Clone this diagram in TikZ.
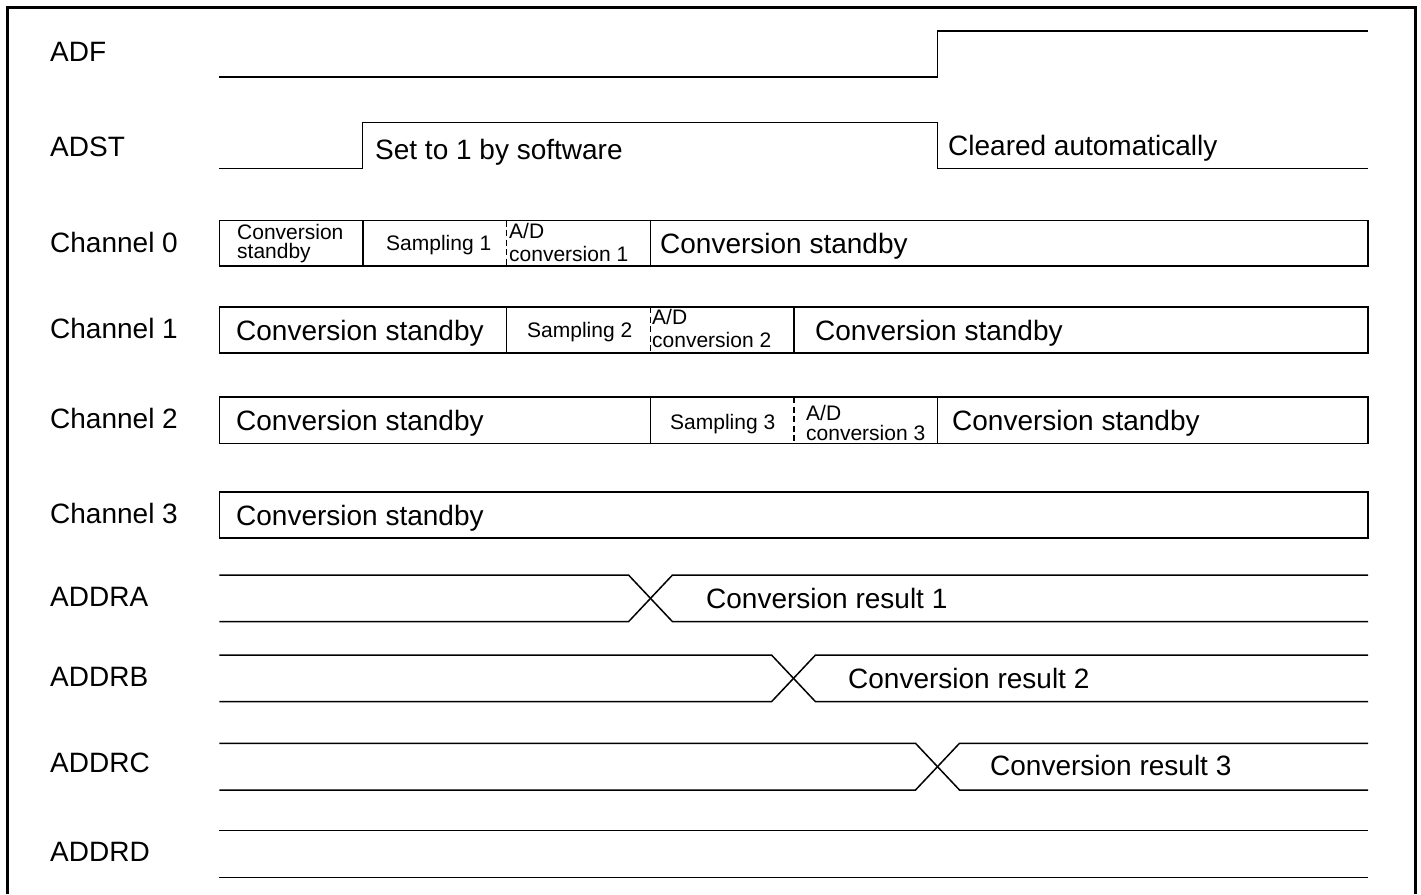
\documentclass[tikz,border=0pt]{standalone}
\usepackage{fontspec}
\setmainfont{Liberation Sans}
\usetikzlibrary{positioning}

\newcommand{\bigtext}{\fontsize{28}{32}\selectfont}
\newcommand{\smalltext}{\fontsize{21}{24}\selectfont}

\begin{document}
\begin{tikzpicture}[
  x=1pt, y=-1pt,
  lbl/.style={anchor=base west, inner sep=0pt, font=\bigtext},
  big/.style={anchor=base west, inner sep=0pt, font=\bigtext},
  small/.style={anchor=base west, inner sep=0pt, font=\smalltext},
  twoline/.style={anchor=north west, inner sep=0pt, align=left, font=\fontsize{21}{#1}\selectfont},
  sig/.style={line width=1.5pt},
  chbox/.style={draw, line width=1.5pt},
  halfdash/.style={line width=1.5pt, dash pattern=on 6pt off 3.5pt},
  frame/.style={line width=3pt}
]
\useasboundingbox (0,0) rectangle (1421,894);
\draw[frame] (7,894) -- (7,7) -- (1415,7) -- (1415,894);

% signal names
\node[lbl] (adf)  at (50,61)  {ADF};
\node[lbl] (adst) at (50,156) {ADST};
\node[lbl] (ch0)  at (50,252) {Channel 0};
\node[lbl] (ch1)  at (50,338) {Channel 1};
\node[lbl] (ch2)  at (50,428) {Channel 2};
\node[lbl] (ch3)  at (50,523) {Channel 3};
\node[lbl] (ddra) at (50,606) {ADDRA};
\node[lbl] (ddrb) at (50,686) {ADDRB};
\node[lbl] (ddrc) at (50,772) {ADDRC};
\node[lbl] (ddrd) at (50,861) {ADDRD};

% ADF / ADST
\draw[sig] (219.3,77) -- (937.5,77) -- (937.5,31) -- (1368,31);
\draw[sig] (219.3,168.5) -- (362.7,168.5) -- (362.7,122.7) -- (937.5,122.7)
  -- (937.5,168.5) -- (1368,168.5);
\node[big] (setsw) at (375,159) {Set to 1 by software};
\node[big] (clrauto) at (948,155) {Cleared automatically};

% channel 0
\draw[chbox] (219.3,220.7) rectangle (1368,266);
\draw[sig] (363,220.7) -- (363,266);
\draw[halfdash] (506.7,220.7) -- (506.7,266);
\draw[sig] (650.5,220.7) -- (650.5,266);
\node[twoline=19] (c0stby) at (237,224.5) {Conversion\\standby};
\node[small] (c0smp) at (386,250) {Sampling 1};
\node[twoline=23.5] (c0ad) at (509,222.7) {A/D\\conversion 1};
\node[big] (c0rest) at (660,253.5) {Conversion standby};

% channel 1
\draw[chbox] (219.3,307) rectangle (1368,353);
\draw[sig] (506.7,307) -- (506.7,353);
\draw[halfdash] (650.5,307) -- (650.5,353);
\draw[sig] (794,307) -- (794,353);
\node[big] (c1stby) at (236,340.5) {Conversion standby};
\node[small] (c1smp) at (527,337) {Sampling 2};
\node[twoline=23] (c1ad) at (652,309.5) {A/D\\conversion 2};
\node[big] (c1rest) at (815,340.5) {Conversion standby};

% channel 2
\draw[chbox] (219.3,397) rectangle (1368,443.5);
\draw[sig] (650.5,397) -- (650.5,443.5);
\draw[halfdash] (794,397) -- (794,443.5);
\draw[sig] (937.5,397) -- (937.5,443.5);
\node[big] (c2stby) at (236,430.7) {Conversion standby};
\node[small] (c2smp) at (670,429) {Sampling 3};
\node[twoline=20.5] (c2ad) at (806,405) {A/D\\conversion 3};
\node[big] (c2rest) at (952,430.7) {Conversion standby};

% channel 3
\draw[chbox] (219.3,492) rectangle (1368,538);
\node[big] (c3stby) at (236,525.7) {Conversion standby};

% data registers
\foreach \top/\tx in {575/650.5, 655/793.5, 743.3/937.5}{
  \draw[sig] (219.3,\top) -- (\tx-22,\top) -- (\tx+22,\top+46.7) -- (1368,\top+46.7);
  \draw[sig] (219.3,\top+46.7) -- (\tx-22,\top+46.7) -- (\tx+22,\top) -- (1368,\top);
}
\node[big] (resa) at (706,608) {Conversion result 1};
\node[big] (resb) at (848,688) {Conversion result 2};
\node[big] (resc) at (990,775.5) {Conversion result 3};
\draw[sig] (219.3,830.7) -- (1368,830.7);
\draw[sig] (219.3,877.3) -- (1368,877.3);
\end{tikzpicture}
\end{document}
